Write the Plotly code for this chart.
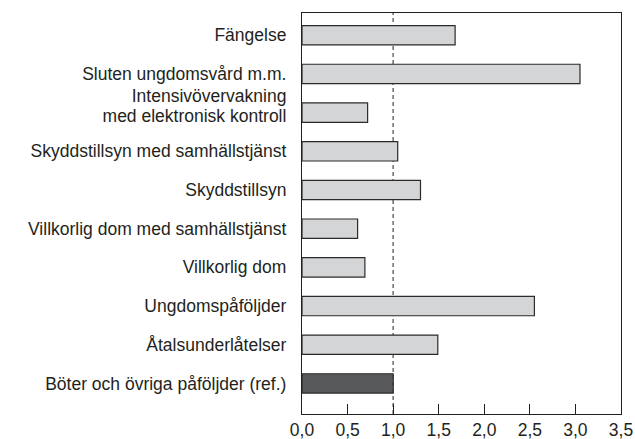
import plotly.graph_objects as go

# category positions (bottom to top) and their labels
categories = [
    "Böter och övriga påföljder (ref.)",
    "Åtalsunderlåtelser",
    "Ungdomspåföljder",
    "Villkorlig dom",
    "Villkorlig dom med samhällstjänst",
    "Skyddstillsyn",
    "Skyddstillsyn med samhällstjänst",
    "Intensivövervakning med elektronisk kontroll",
    "Sluten ungdomsvård m.m.",
    "Fängelse",
]
# the long label is shown on two lines
label_lines = {
    "Intensivövervakning med elektronisk kontroll": ["Intensivövervakning", "med elektronisk kontroll"],
}
values = [1.0, 1.49, 2.55, 0.69, 0.61, 1.30, 1.05, 0.72, 3.05, 1.68]
fill_colors = ["#58595b"] + ["#d4d5d7"] * 9
x_tickvals = [0, 0.5, 1, 1.5, 2, 2.5, 3, 3.5]
x_ticktext = ["0,0", "0,5", "1,0", "1,5", "2,0", "2,5", "3,0", "3,5"]
ref_value = 1.0

positions = list(range(len(categories)))

# build y tick labels (two-line label split into two ticks, slightly raised)
line_offsets = [0.43, -0.085]
y_tickvals, y_ticktext = [], []
for pos, cat in zip(positions, categories):
    if cat in label_lines:
        for off, line in zip(line_offsets, label_lines[cat]):
            y_tickvals.append(pos + off)
            y_ticktext.append(line)
    else:
        y_tickvals.append(pos)
        y_ticktext.append(cat)

FONT = "Liberation Sans"
INK = "#231f20"
tick_font = dict(family=FONT, size=17.5, color=INK)

fig = go.Figure()
fig.add_trace(go.Bar(
    x=values,
    y=positions,
    orientation="h",
    width=0.5,
    marker=dict(color=fill_colors, line=dict(color="#2b2b2b", width=1.2)),
    hovertext=categories,
    hoverinfo="text+x",
))

fig.add_shape(
    type="line", xref="x", yref="paper",
    x0=ref_value, x1=ref_value, y0=0, y1=1,
    line=dict(color="#6d6e70", width=1.5, dash="4px,3px"),
    layer="below",
)

fig.update_layout(
    width=635, height=439,
    autosize=False,
    margin=dict(l=302, r=14, t=13, b=25, pad=0),
    plot_bgcolor="white",
    paper_bgcolor="white",
    showlegend=False,
    font=tick_font,
    xaxis=dict(
        range=[0, 3.5],
        tickvals=x_tickvals,
        ticktext=x_ticktext,
        tickfont=tick_font,
        ticks="inside",
        ticklen=10,
        tickwidth=1,
        tickcolor=INK,
        showgrid=False,
        zeroline=False,
        showline=True,
        linecolor=INK,
        linewidth=1.2,
        mirror=True,
        fixedrange=True,
        automargin=False,
    ),
    yaxis=dict(
        range=[-0.79, 9.575],
        tickvals=y_tickvals,
        ticktext=y_ticktext,
        tickfont=tick_font,
        ticks="",
        showgrid=False,
        zeroline=False,
        showline=True,
        linecolor=INK,
        linewidth=1.2,
        mirror=True,
        ticklabelstandoff=11,
        fixedrange=True,
        automargin=False,
    ),
)

fig.write_html(
    "out.html",
    config={"displayModeBar": False},
    post_script="document.body.style.margin='0';document.body.style.overflow='hidden';",
)
